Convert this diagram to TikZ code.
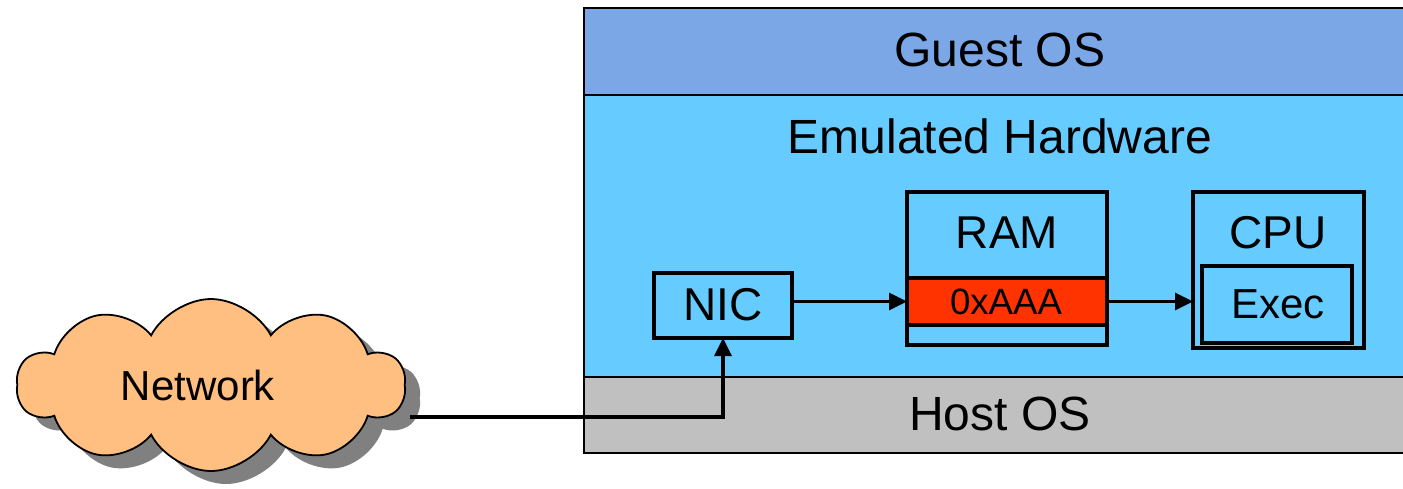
\documentclass[tikz,border=0pt]{standalone}
\usepackage{fontspec}
\setmainfont{Liberation Sans}
\usetikzlibrary{shapes.symbols,arrows.meta}
\definecolor{guestc}{RGB}{123,167,230}
\definecolor{emuc}{RGB}{102,204,255}
\definecolor{hostc}{RGB}{192,192,192}
\definecolor{redc}{RGB}{255,51,0}
\definecolor{cloudc}{RGB}{255,191,128}
\definecolor{shadowc}{RGB}{128,128,128}
\begin{document}
\begin{tikzpicture}[x=0.5pt,y=-0.5pt,
  layer/.style={draw=black, line width=1pt, inner sep=0pt, outer sep=0pt},
  hwbox/.style={draw=black, line width=1.6pt, fill=emuc, inner sep=0pt, outer sep=0pt},
  big/.style={font=\fontsize{24}{28}\selectfont, inner sep=0pt},
  mid/.style={font=\fontsize{23}{27}\selectfont, inner sep=0pt},
  flow/.style={line width=1.6pt, -{Triangle[length=9pt,width=8.5pt]}},
  cloudshape/.style={cloud, cloud puffs=10, cloud puff arc=125, aspect=2.2,
     minimum width=194pt, minimum height=86pt, inner sep=0pt}]
\clip (0,0) rectangle (1403,488);
\useasboundingbox (0,0) rectangle (1403,488);
% layers
\node[layer, fill=guestc, minimum width=417pt, minimum height=43.5pt] (guest) at (1000.5,51.2) {};
\node[layer, fill=emuc, minimum width=417pt, minimum height=141pt] (emu) at (1000.5,235.7) {};
\node[layer, fill=hostc, minimum width=417pt, minimum height=38pt] (host) at (1000.5,414.7) {};
\node[big] (guestlbl) at (1000,50) {Guest OS};
\node[big] (emulbl) at (1000,136) {Emulated Hardware};
\node[big] (hostlbl) at (1000,414) {Host OS};
% NIC
\node[hwbox, minimum width=69pt, minimum height=32.5pt] (nic) at (723,305.5) {};
\node[mid] (niclbl) at (723,305) {NIC};
% RAM
\node[hwbox, minimum width=100pt, minimum height=76.5pt] (ram) at (1007,268.5) {};
\node[mid] (ramlbl) at (1007,233) {RAM};
\node[hwbox, fill=redc, minimum width=100pt, minimum height=23.5pt] (band) at (1007,301.5) {};
\node[font=\fontsize{18.3}{22}\selectfont, inner sep=0pt] (bandlbl) at (1006,302) {0xAAA};
% CPU
\node[hwbox, minimum width=85.5pt, minimum height=78pt] (cpu) at (1278.5,270) {};
\node[mid] (cpulbl) at (1278,233) {CPU};
\node[hwbox, minimum width=75pt, minimum height=38.5pt] (exec) at (1277,304.5) {};
\node[font=\fontsize{21}{25}\selectfont, inner sep=0pt] (execlbl) at (1278,304) {Exec};
% arrows inside
\draw[flow] (nic.east |- band.west) -- (band.west);
\draw[flow] (band.east) -- (band.east -| cpu.west);
% cloud
\node[cloudshape, fill=shadowc] (netshadow) at (226,398) {};
\node[cloudshape, draw=black, line width=0.9pt, fill=cloudc] (net) at (211,385) {};
\node[font=\fontsize{21}{25}\selectfont, inner sep=0pt] (netlbl) at (198,385) {Network};
\coordinate (netout) at (410,417);
\draw[flow] (netout) -| (nic.south);
\end{tikzpicture}
\end{document}
